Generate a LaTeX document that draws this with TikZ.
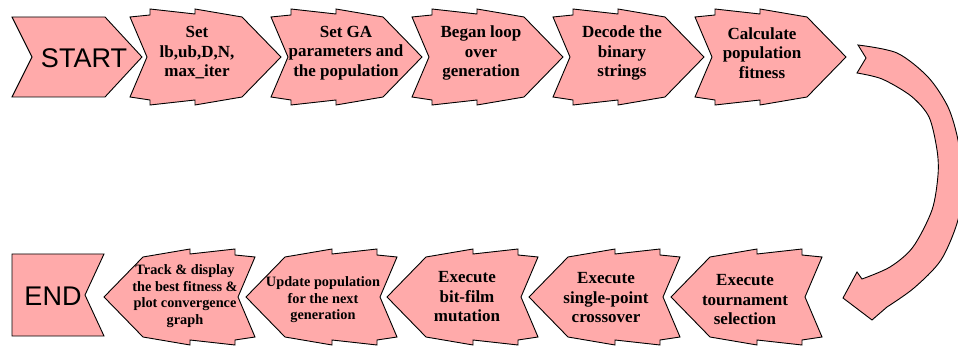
\documentclass[tikz,border=0pt]{standalone}
\usepackage{fontspec}
\setmainfont{Liberation Serif}
\newfontfamily\arialf{Liberation Sans}
\definecolor{pinkfill}{RGB}{255,170,170}
\tikzset{
  box/.style={draw=black, fill=pinkfill, line width=0.9pt, line join=miter},
  lbl/.style={font=\bfseries\fontsize{17}{19.5}\selectfont, align=center, text=black, inner sep=0pt},
  slbl/.style={font=\bfseries\fontsize{14.3}{16.5}\selectfont, align=center, text=black, inner sep=0pt},
  termlbl/.style={font=\arialf\fontsize{27}{30}\selectfont, text=black, inner sep=0pt}
}
\newcommand\chevpath{(0,-40) -- (20,-42) -- (20,-48) -- (65,-43) -- (65,-48) -- (112,-40) -- (151,0) -- (112,40) -- (65,48) -- (65,43) -- (20,48) -- (20,43) -- (0,40) -- (17,0) -- cycle}
\newcommand\chevright[1]{\draw[box,shift={(#1,57)}] \chevpath;}
\newcommand\chevleft[1]{\draw[box,shift={(#1,297)},xscale=-1] \chevpath;}
\begin{document}
\begin{tikzpicture}[x=1pt,y=-1pt]
\useasboundingbox (0,0) rectangle (958,347);
% START
\draw[box] (12,17) -- (105,17) -- (142,57) -- (105,97) -- (12,97) -- (32,57) -- cycle;
\node[termlbl] (start) at (84,58) {START};
% top row
\chevright{130}
\chevright{271}
\chevright{412}
\chevright{553}
\chevright{695}
\node[lbl] (setlb) at (197,53) {Set\\lb,ub,D,N,\\max\_iter};
\node[lbl] (setga) at (346,53) {Set GA\\parameters and\\the population};
\node[lbl] (loop) at (481,53) {Began loop\\over\\generation};
\node[lbl] (decode) at (622,53) {Decode the\\binary\\strings};
\node[lbl] (fit) at (762,53) {Calculate\\population\\fitness};
% curved arrow
\draw[box] plot[smooth] coordinates {(858,45) (897,53) (928,77) (948,107) (958,140) (963,180) (958,220) (941,260) (914,288) (887,307)}
  -- (872,320) -- (843,298) -- (857,272)
  -- plot[smooth] coordinates {(862,279) (890,267) (913,247) (932,210) (938,175) (937,150) (929,117) (911,96) (882,79) (857,73)}
  -- (866,58) -- cycle;
% bottom row
\chevleft{822}
\chevleft{680}
\chevleft{538}
\chevleft{397}
\chevleft{255}
\node[lbl] (tour) at (745,300) {Execute\\tournament\\selection};
\node[lbl] (cross) at (606,298) {Execute\\single-point\\crossover};
\node[lbl] (mut) at (467,297) {Execute\\bit-film\\mutation};
\node[slbl] (upd) at (323,300) {Update population\\for the next\\generation};
\node[slbl] (track) at (185,296) {Track \& display\\the best fitness \&\\plot convergence\\graph};
% END
\draw[box] (12,254) -- (104,254) -- (85,295) -- (104,336) -- (12,336) -- cycle;
\node[termlbl] (end) at (53,296) {END};
\end{tikzpicture}
\end{document}
